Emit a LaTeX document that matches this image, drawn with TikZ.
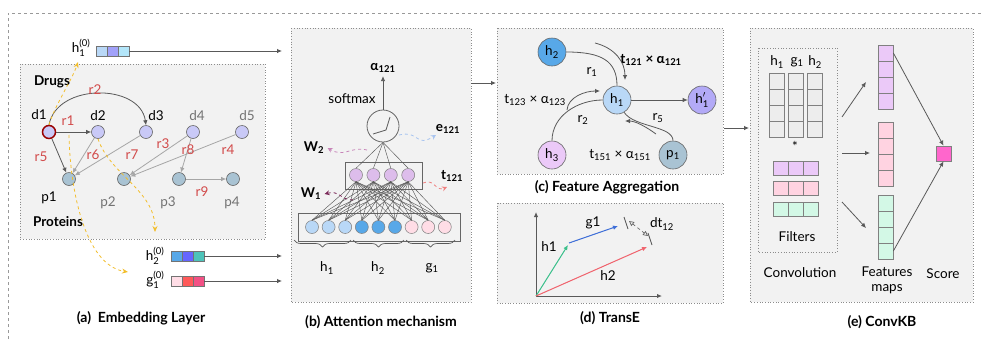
\documentclass[tikz,border=0pt]{standalone}
\usepackage{fontspec}
\setmainfont{Lato}
\usepackage{amsmath}
\usetikzlibrary{positioning,calc,arrows.meta,decorations.pathreplacing}
\definecolor{panelbg}{HTML}{F2F2F2}
\definecolor{drugc}{HTML}{C9C9F7}
\definecolor{protc}{HTML}{A9C3D3}
\definecolor{relc}{HTML}{D24B4B}
\definecolor{yelc}{HTML}{F2BE2C}
\definecolor{lblue}{HTML}{B9D8F7}
\definecolor{mblue}{HTML}{58A8E8}
\definecolor{lpink}{HTML}{FFDDE6}
\definecolor{lpurp}{HTML}{DDBDEB}
\definecolor{lilac}{HTML}{EBC9F8}
\definecolor{rose}{HTML}{FFD3E1}
\definecolor{mint}{HTML}{D3F8E6}
\definecolor{hprime}{HTML}{B3AAF7}
\definecolor{magent}{HTML}{FF66CC}
\definecolor{greenv}{HTML}{3CC08C}
\definecolor{bluev}{HTML}{3F6FD8}
\definecolor{redv}{HTML}{F0646E}
\definecolor{wtwo}{HTML}{C784B8}
\definecolor{wone}{HTML}{7A2858}
\definecolor{eblue}{HTML}{A8C4F0}
\definecolor{tred}{HTML}{F08080}
\newcommand{\sub}[2]{#1$_{\text{#2}}$}
\newcommand{\subsup}[3]{#1$_{\text{#2}}^{\text{#3}}$}

\begin{document}
\begin{tikzpicture}[x=1pt,y=-1pt,font=\fontsize{13.5}{15}\selectfont,
    panel/.style={draw=black!45,dotted,fill=panelbg,line width=0.7pt},
    captext/.style={font=\fontsize{14}{16}\selectfont\bfseries},
    boldtext/.style={font=\fontsize{13.5}{15}\selectfont\bfseries},
    drug/.style={circle,draw=black!60,fill=drugc,minimum size=13pt,inner sep=0pt,line width=0.6pt},
    prot/.style={drug,fill=protc},
    rel/.style={text=relc},
    gr/.style={text=black!55},
    tip/.style={-{Latex[length=5pt,width=4.5pt]}},
    darkedge/.style={tip,draw=black!65,line width=0.8pt},
    lightedge/.style={tip,draw=black!35,line width=0.8pt},
    yel/.style={dashed,draw=yelc,line width=0.8pt,-{Stealth[length=6pt,width=5pt]}},
    arr/.style={tip,draw=black!65,line width=0.8pt},
    cell/.style={draw=black!55,minimum width=11pt,minimum height=10pt,inner sep=0pt,line width=0.6pt},
    neuron/.style={circle,draw=black!50,minimum size=13pt,inner sep=0pt,line width=0.5pt},
    ent/.style={circle,draw=black!60,minimum size=28pt,inner sep=0pt,line width=0.6pt},
    sq/.style={draw=black!50,minimum width=15pt,minimum height=16pt,inner sep=0pt,line width=0.7pt},
    wire/.style={draw=black!65,line width=0.45pt},
    signal/.style={dashed,line width=0.8pt,-{Stealth[length=5pt,width=5pt]}}]

\useasboundingbox (0,0) rectangle (983,341);
\draw[dashed,draw=black!40,line width=0.8pt] (8,345) -- (8,13) -- (990,13);

% (a) embedding layer
\draw[panel] (20,64) rectangle (265,239);
\node[boldtext] (drugs) at (52,82) {Drugs};
\node[boldtext] (prots) at (58,222) {Proteins};
\node[drug,draw=red!60!black,line width=1.5pt] (d1) at (49,132) {};
\node[drug] (d2) at (98,132) {};
\node[drug] (d3) at (146,132) {};
\node[drug] (d4) at (193,132) {};
\node[drug] (d5) at (242,132) {};
\node[prot] (p1) at (69,179) {};
\node[prot] (p2) at (124,179) {};
\node[prot] (p3) at (179,179) {};
\node[prot] (p4) at (233,179) {};
\node (d1l) at (39,115) {d1};
\node (d2l) at (98,116) {d2};
\node (d3l) at (156,116) {d3};
\node[gr] (d4l) at (197,116) {d4};
\node[gr] (d5l) at (247,116) {d5};
\node (p1l) at (49,198) {p1};
\node[gr] (p2l) at (108,203) {p2};
\node[gr] (p3l) at (168,203) {p3};
\node[gr] (p4l) at (232,203) {p4};

\draw[darkedge] (d1) -- (d2);
\draw[darkedge] (d1.north) .. controls +(8,-42) and +(-6,-42) .. (d3.north);
\draw[darkedge] (d1) -- (p1);
\draw[lightedge] (d2) -- (p1);
\draw[lightedge] (d3) -- (p1);
\draw[lightedge] (d4) -- (p2);
\draw[lightedge] (d5) -- (p2);
\draw[lightedge] (d4) -- (p3);
\draw[lightedge] (p3) -- (p4);
\node[rel] (r1) at (68,121) {r1};
\node[rel] (r2) at (95,90) {r2};
\node[rel] (r5) at (41,157) {r5};
\node[rel] (r6) at (93,155) {r6};
\node[rel] (r7) at (132,155) {r7};
\node[rel] (r3) at (163,144) {r3};
\node[rel] (r8) at (188,150) {r8};
\node[rel] (r4) at (228,150) {r4};
\node[rel] (r9) at (202,192) {r9};

% embedding vectors
\node[cell,fill=lblue] (v11) at (101.5,51) {};
\node[cell,fill=drugc!80!blue] (v12) at (112.5,51) {};
\node[cell,fill=cyan!30] (v13) at (123.5,51) {};
\node[cell,fill=mblue] (v21) at (176.5,256) {};
\node[cell,fill=blue!60] (v22) at (187.5,256) {};
\node[cell,fill=cyan!55!green!70] (v23) at (198.5,256) {};
\node[cell,fill=lpink] (v31) at (176.5,281) {};
\node[cell,fill=red!65] (v32) at (187.5,281) {};
\node[cell,fill=magenta!60!red!70] (v33) at (198.5,281) {};
\node[anchor=east] (e1l) at (94,48) {\subsup{h}{1}{(0)}};
\node[anchor=east] (e2l) at (168,256) {\subsup{h}{2}{(0)}};
\node[anchor=east] (e3l) at (168,280) {\subsup{g}{1}{(0)}};
\coordinate (inb1) at (282,51);
\coordinate (inb2) at (282,256);
\coordinate (inb3) at (282,281);
\draw[arr] (v13.east) -- (inb1);
\draw[arr] (v23.east) -- (inb2);
\draw[arr] (v33.east) -- (inb3);

% look-ups
\coordinate (y1) at (78,62);
\coordinate (y2s) at (69,135);
\coordinate (y2) at (128,272);
\coordinate (y3) at (155,232);
\draw[yel] (d1.north) .. controls (55,105) and (72,80) .. (y1);
\draw[yel] (y2s) .. controls (70,190) and (85,265) .. (y2);
\draw[yel] (d2.south) .. controls (110,175) and (155,190) .. (y3);

\node[captext] (capa) at (141,318) {(a)\ \ Embedding Layer};

% (b) attention mechanism
\draw[panel] (291,28) rectangle (471,302);
\draw[black!60,line width=0.7pt] (298,213) rectangle (460,241);
\draw[black!60,line width=0.7pt] (345,162) rectangle (422,189);
\foreach \i/\c in {1/lblue,2/lblue,3/lblue,4/mblue,5/mblue,6/mblue,7/lpink,8/lpink,9/lpink}
    \node[neuron,fill=\c] (in\i) at ({312+16.6*(\i-1)},227) {};
\foreach \j in {1,...,4}
    \node[neuron,fill=lpurp] (hd\j) at ({356+17.4*(\j-1)},175) {};
\node[circle,draw=black!60,minimum size=32pt,line width=0.8pt] (act) at (383,126) {};
\foreach \i in {1,...,9}
    \foreach \j in {1,...,4}
        \draw[wire] (in\i.north) -- (hd\j.south);
\foreach \j in {1,...,4}
    \draw[wire] (hd\j.north) -- (act.south);
\draw[black!65,line width=0.8pt] ($(act)+(-10,8)$) -- ($(act)+(3,4)$) -- ($(act)+(7,-9)$);
\node[boldtext] (alpha) at (383,68) {\sub{α}{121}};
\draw[arr] (act.north) -- (alpha.south);
\node (smax) at (352,99) {softmax};
\node[boldtext] (w2) at (314,148) {\sub{W}{2}};
\node[boldtext] (w1) at (311,194) {\sub{W}{1}};
\node[boldtext] (e121) at (448,129) {\sub{e}{121}};
\node[boldtext] (t121) at (452,176) {\sub{t}{121}};
\coordinate (w2s) at (367,150);
\coordinate (w1s) at (353,200);
\coordinate (e1s) at (399,135);
\coordinate (e1e) at (436,135);
\coordinate (t1s) at (423,183);
\coordinate (t1e) at (447,187);
\draw[signal,draw=wtwo] (w2s) .. controls (350,146) and (345,158) .. (w2.east);
\draw[signal,draw=wone] (w1s) .. controls (340,200) and (340,190) .. (w1.east);
\draw[signal,draw=eblue] (e1s) .. controls (420,130) and (415,148) .. (e1e);
\draw[signal,draw=tred] (t1s) .. controls (435,178) and (435,192) .. (t1e);
\draw[decorate,decoration={brace,amplitude=7pt,mirror},black!65,line width=0.7pt] (294,240) -- (351,240);
\draw[decorate,decoration={brace,amplitude=7pt,mirror},black!65,line width=0.7pt] (353,240) -- (404,240);
\draw[decorate,decoration={brace,amplitude=7pt,mirror},black!65,line width=0.7pt] (406,240) -- (455,240);
\node (hb1) at (327,268) {\sub{h}{1}};
\node (hb2) at (378,268) {\sub{h}{2}};
\node (gb1) at (432,268) {\sub{g}{1}};
\node[captext] (capb) at (381,322) {(b) Attention mechanism};

\coordinate (bc1) at (471,83);
\coordinate (bc2) at (496,83);
\draw[arr] (bc1) -- (bc2);

% (c) feature aggregation
\draw[panel] (497,28) rectangle (723,174);
\node[ent,fill=mblue] (h2c) at (552,52) {\sub{h}{2}};
\node[ent,fill=lblue] (h1c) at (617,100) {\sub{h}{1}};
\node[ent,fill=hprime] (h1p) at (702,100) {h$'_{\text{1}}$};
\node[ent,fill=lilac] (h3c) at (552,155) {\sub{h}{3}};
\node[ent,fill=protc] (p1c) at (673,155) {\sub{p}{1}};
\draw[black!65,line width=0.8pt] (h2c.east) .. controls +(35,0) and +(0,-25) .. (h1c.north);
\draw[black!65,line width=0.8pt] (h3c.north) .. controls +(0,-25) and +(-25,0) .. (h1c.west);
\draw[black!65,line width=0.8pt] (h1c.-60) .. controls +(10,15) and +(0,-15) .. (p1c.north);
\draw[arr] (h1c) -- (h1p);
\node (cr1) at (592,72) {\sub{r}{1}};
\node (cr2) at (583,120) {\sub{r}{2}};
\node (cr5) at (658,118) {\sub{r}{5}};
\coordinate (m1s) at (595,43);
\coordinate (m1e) at (625,80);
\coordinate (m2s) at (567,110);
\coordinate (m2e) at (600,91);
\coordinate (m3s) at (656,134);
\coordinate (m3e) at (625,121);
\draw[arr] (m1s) .. controls (615,48) and (625,62) .. (m1e);
\draw[arr] (m2s) .. controls (568,97) and (585,91) .. (m2e);
\draw[arr] (m3s) .. controls (645,126) and (635,121) .. (m3e);
\node[boldtext] (m1l) at (651,60) {\sub{t}{121} × \sub{α}{121}};
\node (m2l) at (535,100) {\sub{t}{123} × \sub{α}{123}};
\node (m3l) at (620,155) {\sub{t}{151} × \sub{α}{151}};
\node[captext] (capc) at (607,187) {(c) Feature Aggregation};

\coordinate (ce1) at (724,128);
\coordinate (ce2) at (749,128);
\draw[arr] (ce1) -- (ce2);

% (d) TransE
\draw[panel] (497,203) rectangle (723,303);
\coordinate (o) at (536,296);
\coordinate (ytop) at (536,212);
\coordinate (xend) at (662,296);
\draw[arr,line width=1pt] (o) -- (ytop);
\draw[arr,line width=1pt] (o) -- (xend);
\coordinate (h1e) at (568,245);
\coordinate (g1s) at (569,243);
\coordinate (g1e) at (618,226);
\coordinate (h2e) at (647,247);
\draw[tip,draw=greenv,fill=greenv,line width=1pt] (o) -- (h1e);
\draw[tip,draw=bluev,fill=bluev,line width=1pt] (g1s) -- (g1e);
\draw[tip,draw=redv,fill=redv,line width=1pt] (o) -- (h2e);
\draw[black!65,line width=0.8pt] (624,217) -- (628,229);
\draw[black!65,line width=0.8pt] (648,233) -- (652,245);
\coordinate (dts) at (629,221);
\coordinate (dte) at (648,236);
\draw[dashed,black!60,line width=0.7pt,{Triangle[open,length=5pt,width=5pt]}-{Triangle[open,length=5pt,width=5pt]}] (dts) -- (dte);
\node (h1d) at (549,247) {h1};
\node (g1d) at (593,223) {g1};
\node (h2d) at (608,276) {h2};
\node (dtl) at (662,224) {\sub{dt}{12}};
\node[captext] (capd) at (610,318) {(d) TransE};

% (e) ConvKB
\draw[panel] (750,28) rectangle (973,302);
\draw[panel,fill=none] (758,48) rectangle (837,252);
\foreach \c/\x in {1/776.5,2/795.5,3/814.5}
    \foreach \r/\y in {1/81,2/97,3/113,4/129}
        \node[sq,fill=black!7] (g\c\r) at (\x,\y) {};
\node (ch1) at (777,62) {\sub{h}{1}};
\node (cg1) at (797,62) {\sub{g}{1}};
\node (ch2) at (815,62) {\sub{h}{2}};
\node (star) at (795,146) {*};
\foreach \r/\y/\c in {1/168/lilac,2/188/rose,3/209/mint}
    \foreach \k/\x in {1/780.5,2/795.5,3/810.5}
        \node[sq,minimum height=14pt,fill=\c] (f\r\k) at (\x,\y) {};
\foreach \m/\y/\c in {1/45/lilac,2/122/rose,3/195/mint}
    \foreach \k in {1,...,4}
        \node[sq,fill=\c] (fm\m\k) at (885.5,{\y+8+16*(\k-1)}) {};
\node[sq,fill=magent,minimum height=15pt] (score) at (943.5,153.5) {};
\draw[arr] (fm11.east) -- (score.north);
\draw[arr] (fm34.east) -- (score.south);
\coordinate (k1s) at (842,117);
\coordinate (k1e) at (866,82);
\coordinate (k2s) at (842,153);
\coordinate (k2e) at (870,153);
\coordinate (k3s) at (842,202);
\coordinate (k3e) at (866,228);
\draw[arr] (k1s) -- (k1e);
\draw[arr] (k2s) -- (k2e);
\draw[arr] (k3s) -- (k3e);
\node (filt) at (797,237) {Filters};
\node (conv) at (800,273) {Convolution};
\node (feat) at (887,272) {Features};
\node (maps) at (887,289) {maps};
\node (scl) at (943,274) {Score};
\node[captext] (cape) at (882,322) {(e) ConvKB};
\end{tikzpicture}
\end{document}
